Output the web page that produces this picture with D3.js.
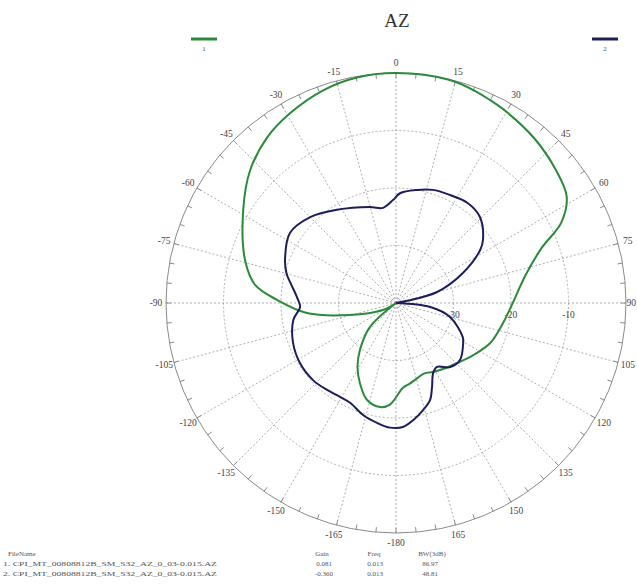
<!DOCTYPE html>
<meta charset="utf-8">
<style>
body { margin: 0; background: #fff; }
.grid line, .grid circle { fill: none; stroke: #9a9a9a; stroke-width: 0.8px; stroke-dasharray: 2,2; }
.outer { fill: none; stroke: #8a8a8a; stroke-width: 1px; }
.tick { stroke: #8a8a8a; stroke-width: 1px; }
.lbl { font-family: "Liberation Serif", serif; font-size: 9.5px; fill: #444; }
.foot { font-family: "Liberation Serif", serif; font-size: 7px; fill: #555; }
.trace { fill: none; stroke-width: 2px; stroke-linejoin: round; }
</style>
<body>
<script src="https://d3js.org/d3.v7.min.js"></script>
<script>

// trace 1 (green) - angle in degrees clockwise from top, level in dB
var greenAngles = [-125, -118, -104.6, -96.4, -88.5, -82.7, -74.1, -58.7, -47.7, -37.8, -29.2, -18.9, -9.8, 0,
                   13.6, 21, 24.8, 30, 40, 50, 58, 64, 69.4, 78, 90, 100, 113, 124, 134.5, 143, 151.8, 158,
                   164.4, 170, 175.3, -176.6, -171.3, -163.4, -155.8, -149, -142.5, -132.7, -125];
var greenValues = [-40, -37.4, -31.7, -24.4, -19.3, -15.3, -12.7, -8.9, -5.7, -3.5, -2.2, -0.9, -0.2, 0,
                   -0.1, -0.7, -1.1, -1.6, -2.6, -3.8, -5, -8, -13, -17, -19.7, -21, -22.2, -23.8, -25.1, -25.8, -26.4, -26.8,
                   -26.4, -25.8, -25.2, -22.3, -21.7, -22.4, -24.7, -27, -29.7, -33.8, -40];

// trace 2 (navy)
var navyAngles = [85, 96.7, 104.5, 116.9, 120.8, 131.7, 139.8, 147.4, 152.1, 156.8, 160.7, 165.8, 171.7, 176.8,
                  -177.3, -171, -163.6, -155.3, -149.2, -141.6, -132.9, -122, -111.2, -99.4, -92.4, -87, -80, -75,
                  -68.8, -56.6, -45, -32.4, -15.2, -7.8, -1.7, 2.1, 10.5, 18.1, 26.6, 35.4, 44.3, 54, 57.8,
                  65.9, 75, 79, 85];
var navyValues = [-40, -34, -30.3, -27, -26.4, -25.1, -25.4, -26.8, -26.2, -24.1, -22.1, -20.8, -19.4, -18.4,
                  -18.3, -18.9, -19.7, -20.9, -21, -20.7, -20.3, -20.3, -20.8, -21.9, -23.3, -22.8, -21.5, -20.3,
                  -19.3, -17.9, -18.9, -20.8, -22.7, -23.3, -22.1, -20.9, -20, -19.3, -19, -18.6, -19.1, -21.3, -22.7,
                  -27.3, -32.6, -38, -40];

var ringLevels = [-30, -20, -10];
var ringLabels = ["-30", "-20", "-10"];
var legendNames = ["1", "2"];
var fileNames = ["1. CPI_MT_00808812B_SM_S32_AZ_0_03-0.015.AZ",
                 "2. CPI_MT_00808812B_SM_S32_AZ_0_03-0.015.AZ"];
var gains = ["0.081", "-0.360"];
var freqs = ["0.013", "0.013"];
var bws = ["86.97", "48.81"];

var W = 637, H = 587;
var cx = 396, cy = 303, R = 230;
var green = "#2b8a3a", navy = "#1d1d5c";

var svg = d3.select("body").append("svg")
    .attr("width", W)
    .attr("height", H);

svg.append("rect").attr("width", W).attr("height", H).attr("fill", "#fff");

var r = d3.scaleLinear().domain([-40, 0]).range([0, R]).clamp(true);
var rad = function(a) { return a * Math.PI / 180; };

var g = svg.append("g").attr("transform", "translate(" + cx + "," + cy + ")");

// spokes every 15 deg
var grid = g.append("g").attr("class", "grid");
grid.selectAll("line")
    .data(d3.range(0, 360, 15))
    .enter().append("line")
    .attr("x1", 0).attr("y1", 0)
    .attr("x2", function(d) { return R * Math.sin(rad(d)); })
    .attr("y2", function(d) { return -R * Math.cos(rad(d)); });

// rings
grid.selectAll("circle")
    .data(ringLevels)
    .enter().append("circle")
    .attr("r", function(d) { return r(d); });

g.append("circle").attr("class", "outer").attr("r", R);

// small ticks every 5 deg on the outer circle
g.selectAll(".tick")
    .data(d3.range(0, 360, 5))
    .enter().append("line")
    .attr("class", "tick")
    .attr("x1", function(d) { return R * Math.sin(rad(d)); })
    .attr("y1", function(d) { return -R * Math.cos(rad(d)); })
    .attr("x2", function(d) { return (R - 5) * Math.sin(rad(d)); })
    .attr("y2", function(d) { return -(R - 5) * Math.cos(rad(d)); });

// angle labels (the 90 one is pulled in so it stays inside the page)
g.selectAll(".alabel")
    .data(d3.range(-165, 181, 15))
    .enter().append("text")
    .attr("class", "lbl")
    .attr("text-anchor", function(d) { return d === 90 ? "end" : "middle"; })
    .attr("dy", "0.35em")
    .attr("x", function(d) { return d === 90 ? W - cx - 1 : (R + 10) * Math.sin(rad(d)); })
    .attr("y", function(d) { return -(R + 10) * Math.cos(rad(d)); })
    .text(function(d) { return d === 180 ? "-180" : d; });

// ring labels along the 90 deg spoke
g.selectAll(".rlabel")
    .data(ringLevels)
    .enter().append("text")
    .attr("class", "lbl")
    .attr("text-anchor", "middle")
    .attr("x", function(d) { return r(d); })
    .attr("y", 15)
    .text(function(d, i) { return ringLabels[i]; });

// traces
var line = d3.lineRadial()
    .angle(function(d) { return rad(d[0]); })
    .radius(function(d) { return r(d[1]); })
    .curve(d3.curveCatmullRom.alpha(0.5));

g.append("path")
    .datum(greenAngles.map(function(a, i) { return [a, greenValues[i]]; }))
    .attr("class", "trace")
    .attr("stroke", green)
    .attr("d", line);

g.append("path")
    .datum(navyAngles.map(function(a, i) { return [a, navyValues[i]]; }))
    .attr("class", "trace")
    .attr("stroke", navy)
    .attr("d", line);

// title
svg.append("text")
    .attr("x", 397).attr("y", 27)
    .attr("text-anchor", "middle")
    .style("font-family", "Liberation Serif, serif")
    .style("font-size", "19px")
    .style("fill", "#333")
    .text("AZ");

// legend
var legX = [204, 605];
var legC = [green, navy];
legendNames.forEach(function(n, i) {
  svg.append("line")
      .attr("x1", legX[i] - 13).attr("x2", legX[i] + 13)
      .attr("y1", 39).attr("y2", 39)
      .attr("stroke", legC[i]).attr("stroke-width", 3);
  svg.append("text")
      .attr("class", "foot")
      .attr("x", legX[i]).attr("y", 51)
      .attr("text-anchor", "middle")
      .text(n);
});

// file info block
svg.append("text").attr("class", "foot").attr("x", 8).attr("y", 556).text("FileName");
svg.append("text").attr("class", "foot").attr("x", 322).attr("y", 556).attr("text-anchor", "middle").text("Gain");
svg.append("text").attr("class", "foot").attr("x", 374).attr("y", 556).attr("text-anchor", "middle").text("Freq");
svg.append("text").attr("class", "foot").attr("x", 432).attr("y", 556).attr("text-anchor", "middle").text("BW(3dB)");
fileNames.forEach(function(f, i) {
  var y = 566 + i * 10;
  svg.append("text").attr("class", "foot").attr("x", 3).attr("y", y)
      .attr("textLength", 214).attr("lengthAdjust", "spacingAndGlyphs").text(f);
  svg.append("text").attr("class", "foot").attr("x", 324).attr("y", y).attr("text-anchor", "middle").text(gains[i]);
  svg.append("text").attr("class", "foot").attr("x", 375).attr("y", y).attr("text-anchor", "middle").text(freqs[i]);
  svg.append("text").attr("class", "foot").attr("x", 430).attr("y", y).attr("text-anchor", "middle").text(bws[i]);
});

</script>
</body>
